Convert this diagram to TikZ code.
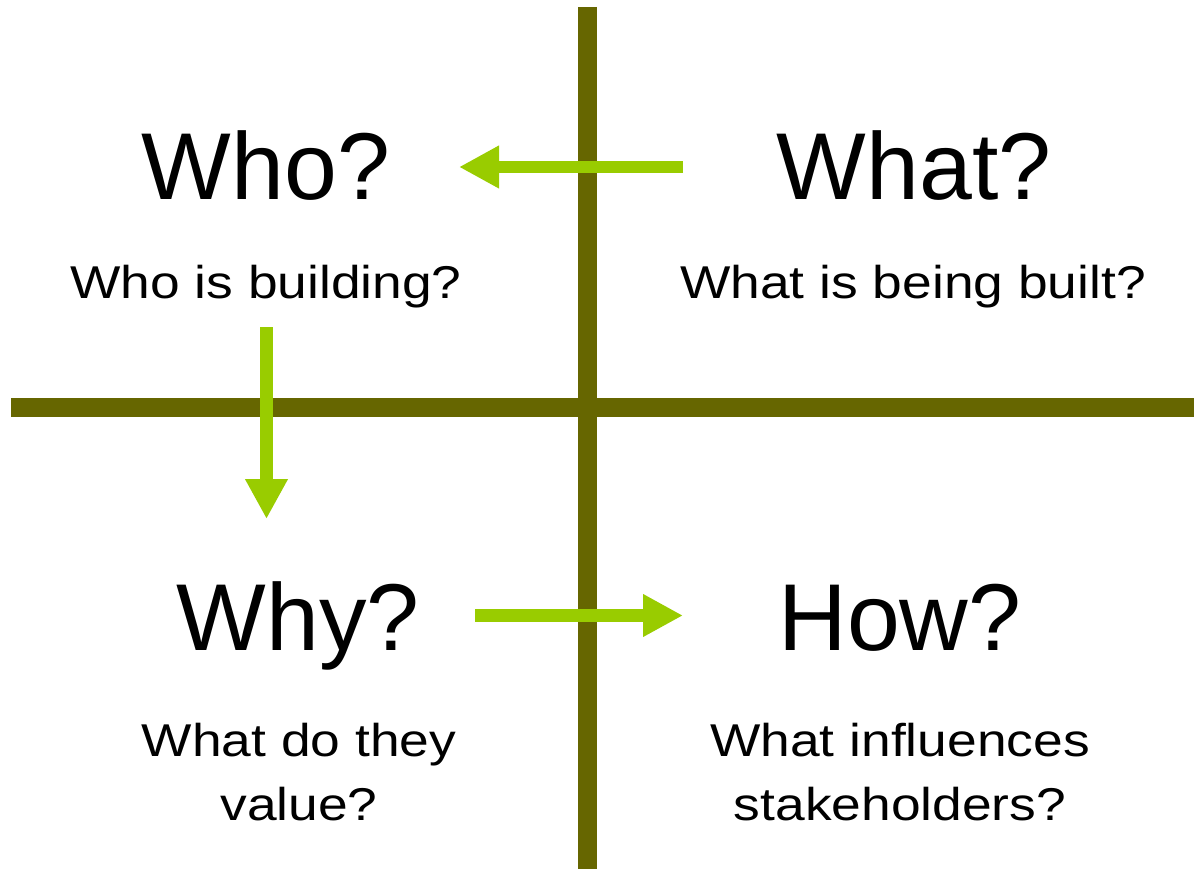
\documentclass[tikz,border=0pt]{standalone}
\usepackage{fontspec}
\setmainfont{Liberation Sans}
\newfontfamily\widesans[FakeStretch=1.16]{Liberation Sans}
\usepackage{xcolor}
\usetikzlibrary{arrows.meta}

\definecolor{olivebar}{HTML}{666600}
\definecolor{limearrow}{HTML}{99CC00}

\begin{document}
\begin{tikzpicture}[x=1pt,y=-1pt,
    bigq/.style={font=\fontsize{95}{100}\selectfont, anchor=base},
    smallq/.style={font=\widesans\fontsize{46}{64}\selectfont, align=center, anchor=base},
    flow/.style={limearrow, line width=12.5pt, -{Triangle[length=40pt,width=40pt]}}]

        \useasboundingbox (0,0) rectangle (1194,869);

        % Draw the cross
        \draw[olivebar, line width=19pt] (587,7) -- (587,869);
        \draw[olivebar, line width=19pt] (11,407.5) -- (1194,407.5);

        % Draw the questions
        \node[bigq] (who) at (266,200) {Who?};
        \node[bigq] (what) at (914,200) {What?};
        \node[bigq] (why) at (298,650) {Why?};
        \node[bigq] (how) at (900,650) {How?};

        \node[smallq] (whosub) at (266,298) {Who is building?};
        \node[smallq] (whatsub) at (913,298) {What is being built?};
        \node[smallq] (whysub) at (299,820) {What do they\\value?};
        \node[smallq] (howsub) at (900,820) {What influences\\stakeholders?};

        % Draw the arrows
        \coordinate (whatout) at (683,167);
        \coordinate (whoin) at (459,167);
        \coordinate (whoout) at (266.5,327);
        \coordinate (whyin) at (266.5,519);
        \coordinate (whyout) at (475,615.5);
        \coordinate (howin) at (683,615.5);

        \draw[flow] (whatout) -- (whoin);
        \draw[flow] (whoout) -- (whyin);
        \draw[flow] (whyout) -- (howin);

    \end{tikzpicture}
\end{document}
